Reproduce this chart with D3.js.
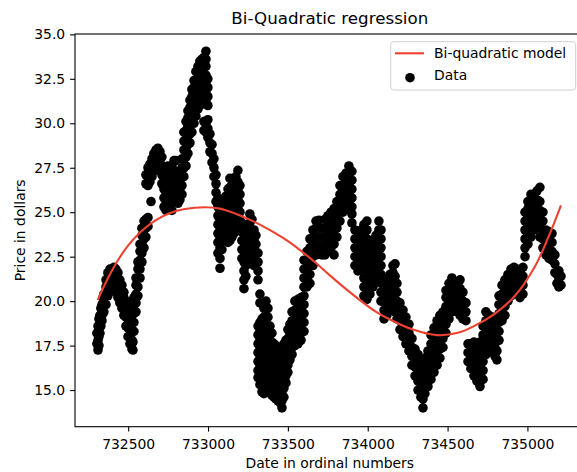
<!DOCTYPE html>
<html>

<head>
    <meta charset="utf-8">
    <script src="https://d3js.org/d3.v7.min.js"></script>

    <style type="text/css">
        body {
            margin: 0;
            background: #fff;
        }

        svg {
            display: block;
            font-family: "DejaVu Sans", sans-serif;
        }

        .axis text {
            font-size: 13.9px;
            fill: #000;
        }

        .axis line {
            stroke: #000;
            stroke-width: 1.1px;
        }
    </style>
</head>

<body>
    <script>
        // dates (ordinal), one per column of dots
        var dates = [
            732304, 732311, 732317, 732323, 732329, 732336, 732342, 732348, 732361, 732373,
            732386, 732398, 732411, 732423, 732436, 732448, 732461, 732473, 732486, 732499,
            732511, 732524, 732530, 732536, 732549, 732561, 732574, 732586, 732599, 732611,
            732624, 732636, 732643, 732649, 732661, 732674, 732686, 732699, 732711, 732724,
            732737, 732749, 732762, 732774, 732787, 732799, 732812, 732824, 732837, 732849,
            732862, 732874, 732887, 732899, 732912, 732924, 732937, 732949, 732962, 732974,
            732987, 732999, 733012, 733025, 733037, 733050, 733062, 733075, 733087, 733100,
            733112, 733125, 733137, 733150, 733162, 733175, 733187, 733200, 733212, 733225,
            733237, 733250, 733262, 733275, 733288, 733300, 733313, 733325, 733338, 733350,
            733363, 733375, 733388, 733400, 733413, 733425, 733438, 733450, 733463, 733475,
            733488, 733500, 733513, 733526, 733544, 733563, 733582, 733601, 733619, 733638,
            733657, 733676, 733695, 733713, 733732, 733751, 733770, 733789, 733807, 733826,
            733845, 733864, 733882, 733901, 733920, 733939, 733958, 733976, 733995, 734014,
            734033, 734052, 734070, 734083, 734102, 734120, 734139, 734158, 734171, 734183,
            734202, 734221, 734239, 734258, 734277, 734296, 734315, 734333, 734346, 734358,
            734377, 734396, 734415, 734434, 734452, 734471, 734490, 734509, 734527, 734546,
            734565, 734578, 734596, 734615, 734628, 734646, 734665, 734684, 734703, 734722,
            734740, 734759, 734778, 734797, 734809, 734822, 734841, 734859, 734878, 734897,
            734916, 734934, 734953, 734972, 734985, 735003, 735022, 735041, 735060, 735078,
            735097, 735116, 735135, 735154, 735172, 735185, 735197, 735210
        ];

        // prices seen around each of those dates
        var prices = [
            [17.6, 18.2], [17.25, 17.8, 18.6], [17.5, 18.0, 18.5, 19.0], [18.2, 18.7, 19.2], [18.6, 19.1, 19.6],
            [18.9, 19.4, 19.8], [19.3, 19.8, 20.2], [19.4, 19.9, 20.4], [19.8, 20.3, 20.8, 21.2], [20.3, 20.8, 21.3, 21.6],

            [20.6, 21.1, 21.6, 21.8], [20.8, 21.3, 21.8], [20.8, 21.3, 21.9], [20.5, 21.0, 21.5, 21.8], [20.2, 20.7, 21.2, 21.6],
            [19.9, 20.4, 20.9, 21.2], [19.6, 20.1, 20.6, 20.9], [19.2, 19.7, 20.2, 20.5], [18.6, 19.1, 19.6, 20.0], [18.0, 18.5, 19.0, 19.5, 19.9],

            [17.6, 18.1, 18.6, 19.1, 19.6], [17.3, 17.8, 18.3, 18.8, 19.3], [17.25, 17.7], [18.3, 18.8, 19.3, 19.8, 20.2], [19.4, 19.9, 20.4, 20.9, 21.3],
            [20.3, 20.8, 21.3, 21.8, 22.2], [21.3, 21.8, 22.3, 22.8, 23.2], [22.2, 22.7, 23.2, 23.7, 24.1], [23.0, 23.5, 24.0, 24.5], [23.6, 24.1, 24.6, 26.6, 27.1],

            [24.2, 24.7, 26.5, 27.0, 27.5], [26.7, 27.2, 27.7], [25.6], [27.0, 27.5, 28.0], [27.3, 27.8, 28.3],
            [27.6, 28.1, 28.5], [27.8, 28.2, 28.6], [27.4, 27.9, 28.4], [26.6, 27.1, 27.6, 28.1], [25.3, 25.8, 26.3, 26.8, 27.3],

            [25.1, 25.6, 26.1, 26.6, 27.1], [25.2, 25.7, 26.2, 26.7, 27.2, 27.6], [25.4, 25.9, 26.4, 26.9, 27.4], [25.1, 25.6, 26.1, 26.6, 27.1, 27.6], [25.6, 26.1, 26.6, 27.1, 27.9],
            [25.8, 26.3, 26.8, 27.3, 27.9], [25.5, 26.0, 26.5, 27.0], [25.7, 26.2, 26.7, 27.2], [26.0, 26.5, 27.0, 27.5, 28.0], [27.0, 27.5, 28.0, 28.5, 29.0, 29.5],

            [27.6, 28.1, 28.6, 29.1, 29.6, 30.1], [28.3, 28.8, 29.3, 29.8, 30.3, 30.7], [28.9, 29.4, 29.9, 30.4, 30.9, 31.3], [29.5, 30.0, 30.5, 31.0, 31.5, 31.9], [30.0, 30.5, 31.0, 31.5, 32.0, 32.4],
            [30.4, 30.9, 31.4, 31.9, 32.4, 32.9], [30.8, 31.3, 31.8, 32.3, 32.8, 33.2], [31.0, 31.5, 32.0, 32.5, 33.0, 33.5], [31.1, 31.6, 32.1, 32.6, 33.1, 33.6], [29.6, 30.1, 31.2, 31.7, 32.2, 32.7, 33.2, 33.7],

            [29.5, 30.0, 31.2, 31.7, 32.2, 32.7, 33.2, 33.6, 34.05], [29.2, 29.7, 30.2, 31.0, 31.5, 32.0, 32.5], [28.4, 28.9, 29.4], [27.8, 28.3, 28.8], [27.0, 27.5, 28.0],
            [25.6, 26.1, 26.6, 27.1], [22.7, 23.3, 23.8, 24.3, 24.8, 25.3, 25.8], [21.85, 22.4, 23.0, 23.5, 24.0, 24.5, 25.0], [22.9, 23.4, 23.9, 24.4, 24.9], [23.6, 24.1, 24.6, 25.1, 25.6],

            [23.4, 23.9, 24.4, 24.9, 25.4, 25.9], [23.3, 23.8, 24.3, 24.8, 25.3, 25.8, 26.3], [23.4, 23.9, 24.4, 24.9, 25.4, 25.9, 26.4, 26.9], [23.6, 24.1, 24.6, 25.1, 25.6, 26.1, 26.5], [23.8, 24.3, 24.8, 25.3, 25.8, 26.3, 26.8],
            [24.0, 24.5, 25.0, 25.5, 26.0, 26.5, 27.0], [24.2, 24.7, 25.2, 25.7, 26.2, 26.7, 27.35], [24.0, 24.5, 25.0, 25.5, 26.0, 26.5], [22.4, 22.9, 23.4, 23.9, 24.4], [20.7, 21.2, 21.7, 22.2],

            [21.4, 22.0, 22.6, 23.2], [22.4, 23.0, 23.6, 24.2], [22.6, 23.2, 23.8, 24.4, 24.9], [22.2, 22.8, 23.4, 24.0, 24.6], [22.0, 22.5, 23.0, 23.5, 24.0],
            [22.2, 22.7, 23.2, 23.7], [15.7, 16.1, 16.6, 17.1, 17.6, 18.1, 18.6, 21.2, 21.7, 22.2, 22.7], [15.3, 15.8, 16.3, 16.8, 17.3, 17.8, 18.3, 18.8, 19.9, 20.4], [14.9, 15.5, 16.0, 16.5, 17.0, 17.5, 18.0, 18.5, 19.0], [14.8, 15.1, 15.6, 16.1, 16.6, 17.1, 17.6, 18.1, 18.6, 19.1, 19.6],

            [15.1, 15.5, 16.0, 16.5, 17.0, 17.5, 18.0, 18.5, 19.0, 19.5, 20.0], [15.2, 15.6, 16.1, 16.6, 17.1, 17.6, 18.1, 18.6, 19.1, 19.6], [15.1, 15.6, 16.1, 16.6, 17.1, 17.6, 18.1, 18.6], [14.7, 15.2, 15.7, 16.2, 16.7, 17.2, 17.7, 18.2], [14.6, 15.1, 15.6, 16.1, 16.6, 17.1, 17.6],
            [14.5, 15.0, 15.5, 16.0, 16.5, 17.0, 17.5], [14.4, 14.9, 15.4, 15.9, 16.4, 16.9, 17.4], [14.3, 14.7, 15.2, 15.7, 16.2, 16.7, 17.2], [14.0, 14.4, 14.9, 15.4, 15.9, 16.4, 16.9, 17.4], [14.6, 15.1, 15.6, 16.1, 16.6, 17.1, 17.6],

            [15.4, 15.8, 16.3, 16.8, 17.3, 17.8], [16.0, 16.4, 16.9, 17.4, 17.9, 18.4], [16.7, 17.2, 17.7, 18.2, 18.7], [17.0, 17.4, 17.9, 18.4, 18.9, 19.4], [17.5, 18.0, 18.5, 19.0, 19.5, 20.0],
            [17.6, 18.1, 18.6, 19.1, 19.6, 20.1], [17.8, 18.2, 18.7, 19.2, 19.7, 20.2], [18.3, 18.8, 19.3, 19.8, 20.3, 20.8, 21.3, 21.8, 22.3], [20.8, 21.3, 21.8, 22.3, 22.8], [21.0, 21.5, 22.0, 22.5, 23.0, 23.5],

            [22.0, 22.5, 23.0, 23.5, 24.0], [22.6, 23.1, 23.6, 24.1, 24.5], [22.7, 23.1, 23.6, 24.1, 24.55], [22.6, 23.1, 23.6, 24.1], [22.6, 23.1, 23.6, 24.1, 24.6],
            [22.8, 23.3, 23.8, 24.3, 24.8], [23.0, 23.5, 24.0, 24.5, 25.0], [22.6, 23.2, 23.7, 24.2, 24.7, 25.2], [23.6, 24.1, 24.6, 25.1, 25.6], [24.5, 25.0, 25.5, 26.0, 26.5],

            [25.0, 25.5, 26.0, 26.5, 27.0], [25.2, 25.7, 26.2, 26.7, 27.2], [25.6, 26.1, 26.6, 27.1, 27.6], [24.4, 24.9, 25.3, 25.8, 26.3, 26.8, 27.3], [22.0, 22.5, 23.0, 23.5, 24.0],
            [21.7, 22.2, 22.7, 23.2, 23.7], [22.0, 22.5, 23.0, 23.5, 24.0], [20.3, 20.8, 21.3, 21.8, 22.3, 22.8, 23.3, 23.8, 24.3], [20.1, 20.5, 21.0, 21.5, 22.0, 22.5, 23.0, 23.5, 24.0, 24.5], [20.4, 20.9, 21.4, 21.9, 22.4, 22.9, 23.4],

            [20.8, 21.3, 21.8, 22.3], [21.2, 21.7, 22.2, 22.7, 23.2, 23.7], [21.6, 22.0, 22.5, 23.0, 23.5, 24.0, 24.5], [20.0, 20.5, 21.0, 21.5, 22.0, 22.5, 23.0, 23.5, 24.0], [19.0, 19.5, 20.0, 20.5, 21.0],
            [19.2, 19.7, 20.2, 20.7, 21.2], [19.5, 20.0, 20.5, 21.0, 21.5], [19.6, 20.1, 20.6, 21.1, 21.6, 22.0], [19.4, 19.9, 20.4, 20.9, 21.4, 22.1], [19.0, 19.5, 20.0, 20.5, 21.0],

            [18.4, 18.9, 19.4, 19.9], [18.0, 18.5, 19.0, 19.5], [17.6, 18.1, 18.6, 19.1], [17.2, 17.7, 18.2, 18.7], [16.4, 16.9, 17.4, 17.9],
            [15.8, 16.3, 16.8, 17.3], [15.0, 15.5, 16.0, 16.5, 17.0], [14.6, 15.1, 15.6, 16.1, 16.6], [14.0, 14.5, 15.0], [14.8, 15.3, 15.8, 16.3, 16.8],

            [15.2, 15.7, 16.2, 16.7, 17.2], [15.6, 16.1, 16.6, 17.1, 17.6, 18.1], [16.0, 16.5, 17.0, 17.5, 18.0, 18.5], [16.4, 16.9, 17.4, 17.9, 18.4, 18.9], [16.8, 17.3, 17.8, 18.3, 18.8, 19.2],
            [17.4, 17.9, 18.4, 18.9, 19.4], [18.2, 18.7, 19.2, 19.7, 20.2, 20.6], [19.0, 19.5, 20.0, 20.5, 21.0], [19.4, 19.9, 20.4, 20.9, 21.3], [19.6, 20.1, 20.6, 21.1],

            [19.4, 19.9, 20.4, 20.9], [19.2, 19.7, 20.2, 20.7, 21.2], [19.0, 19.5, 20.0, 20.5], [18.9, 19.4, 19.9], [16.6, 17.1, 17.6],
            [16.2, 16.7, 17.2, 17.6], [15.8, 16.3, 16.8, 17.3, 17.7], [15.5, 16.0, 16.5, 17.0, 17.5], [15.2, 15.7, 16.2, 16.7, 17.2, 17.7], [15.6, 16.1, 16.6, 17.1, 17.6, 18.1, 18.6],

            [17.0, 17.5, 18.0, 18.4, 18.9, 19.4], [17.8, 18.2, 18.7, 19.2], [17.2, 17.7, 18.2, 18.7, 19.1], [16.9, 17.4, 17.9, 18.4, 18.9], [16.7, 17.2],
            [17.8, 18.3, 18.8, 19.3, 19.8, 20.3], [18.9, 19.4, 19.9, 20.4, 20.9], [19.2, 19.7, 20.2, 20.7, 21.2], [20.0, 20.5, 21.0, 21.5], [20.3, 20.8, 21.3, 21.8],

            [20.5, 21.0, 21.5, 21.9], [20.4, 20.9, 21.4, 21.8], [20.2, 20.7, 21.2, 21.6], [20.4, 20.9, 21.4, 21.9], [22.5, 23.0, 23.5, 24.0, 24.5, 25.0],
            [23.2, 23.7, 24.2, 24.7, 25.2, 25.6], [23.6, 24.1, 24.6, 25.1, 25.6, 26.0], [24.0, 24.5, 25.0, 25.5, 26.0], [24.2, 24.7, 25.2, 25.7, 26.2], [23.6, 24.1, 24.6, 25.1, 25.6, 26.4],

            [23.0, 23.5, 24.0, 24.5, 25.0], [22.6, 23.1, 23.6, 24.0], [22.4, 22.9, 23.4, 23.9], [22.3, 22.8, 23.3, 23.8], [21.6, 22.1, 22.6],
            [21.0, 21.5], [20.8, 21.3, 21.7], [20.9, 21.4]
        ];

        // fitted bi-quadratic model
        var modelDates = [732309, 732373, 732436, 732499, 732574, 732668, 732762, 732855, 732981, 733075,
            733181, 733281, 733388, 733482, 733576, 733670, 733763, 733857, 733951, 734045,
            734158, 734283, 734433, 734565, 734671, 734797, 734922, 735047, 735129, 735210];
        var modelPrices = [20.06, 21.29, 22.30, 23.12, 23.86, 24.53, 24.96, 25.18, 25.28, 25.2,
            24.89, 24.5, 23.99, 23.48, 22.87, 22.19, 21.45, 20.73, 20.06, 19.44,
            18.88, 18.4, 18.09, 18.22, 18.62, 19.3, 20.3, 21.95, 23.55, 25.39];

        var xTicks = [732500, 733000, 733500, 734000, 734500, 735000];
        var yTicks = [15, 17.5, 20, 22.5, 25, 27.5, 30, 32.5, 35];

        var width = 577;
        var height = 472;
        var plotLeft = 75, plotTop = 34, plotRight = 584.6, plotBottom = 426.7;

        var svg = d3.select("body")
            .append("svg")
            .attr("width", width)
            .attr("height", height);

        svg.append("rect")
            .attr("width", width)
            .attr("height", height)
            .attr("fill", "#fff");

        var x_scale = d3.scaleLinear()
            .domain([732167, 735358])
            .range([plotLeft, plotRight]);

        var y_scale = d3.scaleLinear()
            .domain([12.94, 35.02])
            .range([plotBottom, plotTop]);

        svg.append("clipPath")
            .attr("id", "plot")
            .append("rect")
            .attr("x", plotLeft)
            .attr("y", plotTop)
            .attr("width", plotRight - plotLeft)
            .attr("height", plotBottom - plotTop);

        // scatter
        var points = [];
        dates.forEach(function (d, i) {
            (prices[i] || []).forEach(function (p) {
                points.push({ date: d, price: p });
            });
        });

        svg.append("g")
            .attr("clip-path", "url(#plot)")
            .selectAll("circle")
            .data(points)
            .enter()
            .append("circle")
            .attr("cx", function (d) { return x_scale(d.date); })
            .attr("cy", function (d) { return y_scale(d.price); })
            .attr("r", 4.8)
            .attr("fill", "#000");

        // model curve
        var model = modelDates.map(function (d, i) {
            return { date: d, price: modelPrices[i] };
        });

        var line = d3.line()
            .x(function (d) { return x_scale(d.date); })
            .y(function (d) { return y_scale(d.price); })
            .curve(d3.curveCatmullRom);

        svg.append("path")
            .datum(model)
            .attr("d", line)
            .attr("fill", "none")
            .attr("stroke", "#ee4130")
            .attr("stroke-width", 2.1);

        // axes
        var x_axis = d3.axisBottom(x_scale)
            .tickValues(xTicks)
            .tickFormat(d3.format("d"))
            .tickSize(4.9)
            .tickSizeOuter(0)
            .tickPadding(7.8);

        svg.append("g")
            .attr("class", "x axis")
            .attr("transform", "translate(0," + plotBottom + ")")
            .call(x_axis)
            .attr("font-family", null)
            .attr("font-size", null)
            .call(function (g) { g.select(".domain").remove(); });

        var y_axis = d3.axisLeft(y_scale)
            .tickValues(yTicks)
            .tickFormat(d3.format(".1f"))
            .tickSize(4.9)
            .tickSizeOuter(0)
            .tickPadding(4.9);

        svg.append("g")
            .attr("class", "y axis")
            .attr("transform", "translate(" + plotLeft + ",0)")
            .call(y_axis)
            .attr("font-family", null)
            .attr("font-size", null)
            .call(function (g) { g.select(".domain").remove(); });

        // spines
        svg.append("rect")
            .attr("x", plotLeft)
            .attr("y", plotTop)
            .attr("width", plotRight - plotLeft)
            .attr("height", plotBottom - plotTop)
            .attr("fill", "none")
            .attr("stroke", "#000")
            .attr("stroke-width", 1.1);

        // labels
        svg.append("text")
            .text("Bi-Quadratic regression")
            .attr("x", (plotLeft + plotRight) / 2)
            .attr("y", 24)
            .attr("text-anchor", "middle")
            .attr("font-size", "16.7px")
            .attr("fill", "#000");

        svg.append("text")
            .text("Date in ordinal numbers")
            .attr("x", (plotLeft + plotRight) / 2)
            .attr("y", 468.4)
            .attr("text-anchor", "middle")
            .attr("font-size", "13.9px")
            .attr("fill", "#000");

        var midY = (plotTop + plotBottom) / 2;
        svg.append("text")
            .text("Price in dollars")
            .attr("x", 25)
            .attr("y", midY)
            .attr("text-anchor", "middle")
            .attr("font-size", "13.9px")
            .attr("fill", "#000")
            .attr("transform", "rotate(-90, 25, " + midY + ")");

        // legend
        var legend = svg.append("g");

        legend.append("rect")
            .attr("x", 390.7)
            .attr("y", 41.7)
            .attr("width", 185)
            .attr("height", 48.3)
            .attr("rx", 3)
            .attr("fill", "#fff")
            .attr("fill-opacity", 0.8)
            .attr("stroke", "#d0d0d0")
            .attr("stroke-width", 1);

        legend.append("line")
            .attr("x1", 395)
            .attr("x2", 424)
            .attr("y1", 53.3)
            .attr("y2", 53.3)
            .attr("stroke", "#ee4130")
            .attr("stroke-width", 2.1);

        legend.append("circle")
            .attr("cx", 410)
            .attr("cy", 77.7)
            .attr("r", 4.8)
            .attr("fill", "#000");

        legend.append("text")
            .text("Bi-quadratic model")
            .attr("x", 434)
            .attr("y", 57.5)
            .attr("font-size", "13.9px")
            .attr("fill", "#000");

        legend.append("text")
            .text("Data")
            .attr("x", 434)
            .attr("y", 79.5)
            .attr("font-size", "13.9px")
            .attr("fill", "#000");
    </script>
</body>

</html>
